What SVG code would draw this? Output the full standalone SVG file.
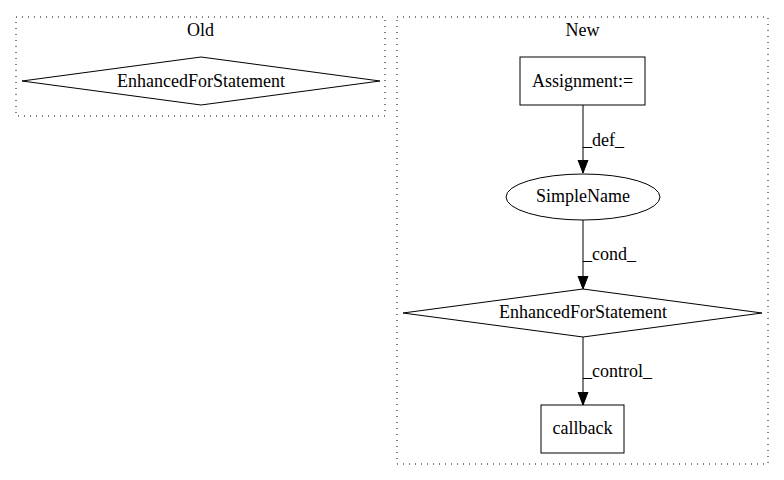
<svg xmlns="http://www.w3.org/2000/svg" width="784" height="480" viewBox="0 0 784 480">
<defs>
<style>
.cl{fill:none;stroke:#000;stroke-width:1;stroke-dasharray:1,5;}
.n{fill:none;stroke:#000;stroke-width:1;}
.e{fill:none;stroke:#000;stroke-width:1;}
.t{font-family:'Liberation Serif','Times New Roman','DejaVu Serif',serif;font-size:18px;fill:#000;}
</style>
<marker id="ah" markerWidth="14" markerHeight="12" refX="13" refY="6" orient="auto" markerUnits="userSpaceOnUse">
<path d="M0,1 L13,6 L0,11 Z" fill="#000" stroke="#000"/>
</marker>
</defs>
<rect width="784" height="480" fill="#fff"/>
<g class="t">
<g id="cluster_old">
<rect class="cl" x="16" y="17" width="369" height="99"/>
<text text-anchor="middle" x="200.5" y="36">Old</text>
</g>
<g id="cluster_new">
<rect class="cl" x="397" y="17" width="371" height="447"/>
<text text-anchor="middle" x="582.5" y="36">New</text>
</g>
<g id="old_efs">
<polygon class="n" points="201,57 380,81 201,105 22,81"/>
<text text-anchor="middle" x="201" y="87">EnhancedForStatement</text>
</g>
<g id="assign">
<rect class="n" x="520" y="57" width="125" height="48"/>
<text text-anchor="middle" x="582.5" y="87">Assignment:=</text>
</g>
<g id="simplename">
<ellipse class="n" cx="583" cy="197" rx="77" ry="23"/>
<text text-anchor="middle" x="583" y="202">SimpleName</text>
</g>
<g id="new_efs">
<polygon class="n" points="583,289 762,313 583,337 403,313"/>
<text text-anchor="middle" x="583" y="318">EnhancedForStatement</text>
</g>
<g id="callback">
<rect class="n" x="541" y="405" width="83" height="48"/>
<text text-anchor="middle" x="582.5" y="434">callback</text>
</g>
<g id="edges">
<line class="e" x1="583" y1="105" x2="583" y2="173" marker-end="url(#ah)"/>
<text x="583" y="146">_def_</text>
<line class="e" x1="583" y1="220" x2="583" y2="289" marker-end="url(#ah)"/>
<text x="583" y="260">_cond_</text>
<line class="e" x1="583" y1="337" x2="583" y2="405" marker-end="url(#ah)"/>
<text x="583" y="377">_control_</text>
</g>
</g>
</svg>
